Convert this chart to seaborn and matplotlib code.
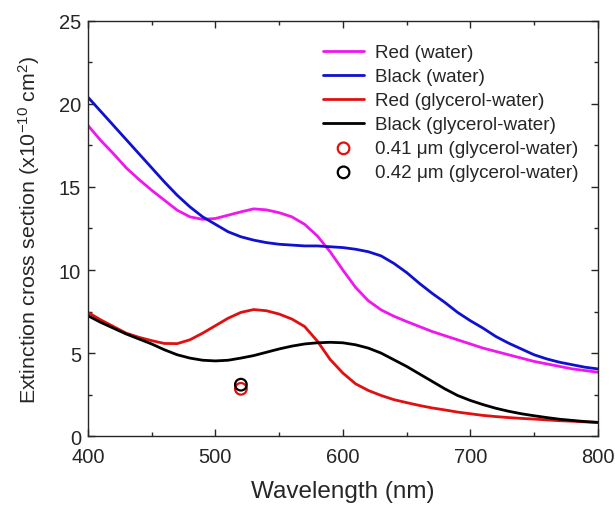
import matplotlib
matplotlib.use("Agg")
import matplotlib.pyplot as plt
from matplotlib.ticker import MultipleLocator
import pandas as pd
import seaborn as sns

# wavelength grid (nm) and curves
wavelength = list(range(400, 801, 10))

red_water = [18.7, 17.8, 17.0, 16.15, 15.45, 14.8, 14.2, 13.6, 13.2, 13.05,
             13.1, 13.3, 13.5, 13.68, 13.62, 13.45, 13.2, 12.75, 12.05, 11.1,
             10.0, 8.95, 8.15, 7.6, 7.22, 6.9, 6.6, 6.3, 6.05, 5.8,
             5.55, 5.3, 5.1, 4.9, 4.7, 4.5, 4.35, 4.2, 4.05, 3.95, 3.85]
black_water = [20.4, 19.55, 18.7, 17.85, 17.0, 16.15, 15.3, 14.5, 13.8, 13.2,
               12.75, 12.3, 12.0, 11.8, 11.65, 11.55, 11.5, 11.45, 11.45, 11.4,
               11.35, 11.25, 11.1, 10.85, 10.4, 9.85, 9.2, 8.6, 8.05, 7.45,
               6.95, 6.5, 6.0, 5.6, 5.25, 4.9, 4.65, 4.45, 4.3, 4.15, 4.05]
red_glyc = [7.45, 7.0, 6.6, 6.2, 5.95, 5.75, 5.58, 5.57, 5.8, 6.2,
            6.65, 7.1, 7.45, 7.62, 7.55, 7.35, 7.05, 6.6, 5.72, 4.62,
            3.8, 3.15, 2.75, 2.45, 2.2, 2.02, 1.85, 1.7, 1.58, 1.45,
            1.35, 1.25, 1.18, 1.12, 1.07, 1.03, 0.98, 0.93, 0.9, 0.86, 0.83]
black_glyc = [7.25, 6.85, 6.5, 6.15, 5.85, 5.55, 5.2, 4.9, 4.7, 4.57,
              4.53, 4.57, 4.7, 4.85, 5.05, 5.25, 5.42, 5.55, 5.62, 5.65,
              5.62, 5.5, 5.3, 5.0, 4.6, 4.2, 3.75, 3.3, 2.85, 2.45,
              2.15, 1.9, 1.68, 1.5, 1.35, 1.23, 1.12, 1.02, 0.95, 0.88, 0.83]

# measured points
meas_wl = [520]
meas_041 = [2.85]
meas_042 = [3.1]

sns.set_style("ticks")
plt.rcParams["font.family"] = ["Liberation Sans", "DejaVu Sans"]
plt.rcParams["mathtext.default"] = "regular"

fig = plt.figure(figsize=(6.15, 5.06), dpi=100)
ax = fig.add_axes([0.143, 0.136, 0.829, 0.821])

df = pd.DataFrame({"wl": wavelength, "rw": red_water, "bw": black_water,
                   "rg": red_glyc, "bg": black_glyc})

sns.lineplot(data=df, x="wl", y="rw", color="#ee18ee", lw=2, label="Red (water)", ax=ax)
sns.lineplot(data=df, x="wl", y="bw", color="#1010d0", lw=2, label="Black (water)", ax=ax)
sns.lineplot(data=df, x="wl", y="rg", color="#e01010", lw=2, label="Red (glycerol-water)", ax=ax)
sns.lineplot(data=df, x="wl", y="bg", color="black", lw=2, label="Black (glycerol-water)", ax=ax)

sns.scatterplot(x=meas_wl, y=meas_041, marker="o", s=70, facecolors="none",
                edgecolors="#e01010", linewidth=1.6, label="0.41 μm (glycerol-water)", ax=ax)
sns.scatterplot(x=meas_wl, y=meas_042, marker="o", s=70, facecolors="none",
                edgecolors="black", linewidth=1.6, label="0.42 μm (glycerol-water)", ax=ax)

ax.set_xlim(400, 800)
ax.set_ylim(0, 25)
ax.xaxis.set_major_locator(MultipleLocator(100))
ax.xaxis.set_minor_locator(MultipleLocator(50))
ax.yaxis.set_major_locator(MultipleLocator(5))
ax.yaxis.set_minor_locator(MultipleLocator(2.5))
ax.tick_params(which="both", direction="in", top=True, right=True, labelsize=14.5, width=1)
ax.tick_params(which="major", length=5)
ax.tick_params(which="minor", length=3)
ax.tick_params(axis="x", pad=8)
ax.tick_params(axis="y", pad=5)
for s in ax.spines.values():
    s.set_linewidth(1)
    s.set_visible(True)

ax.set_xlabel("Wavelength (nm)", fontsize=17.5, labelpad=10)
ax.set_ylabel("Extinction cross section (x10$^{-10}$ cm$^{2}$)", fontsize=15.4, labelpad=12)

ax.legend(loc="upper right", bbox_to_anchor=(0.995, 0.985), frameon=False, fontsize=13.6,
          handlelength=2.2, labelspacing=0.36, handletextpad=0.55)

fig.savefig("out.png", dpi=100)
